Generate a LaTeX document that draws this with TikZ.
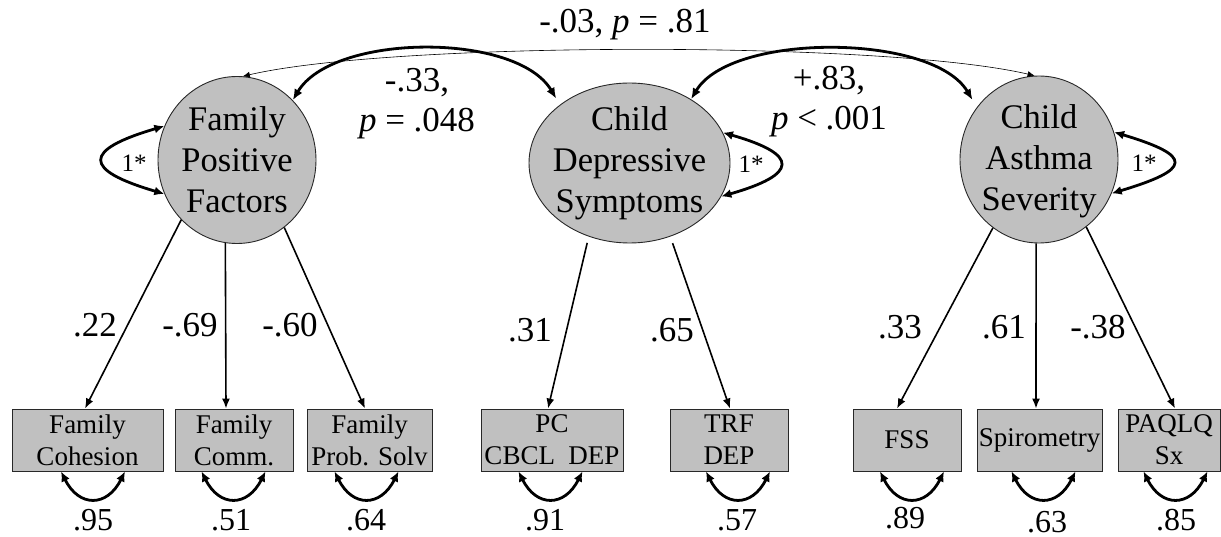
\documentclass[tikz,border=0pt]{standalone}
\usepackage{fontspec}
\setmainfont{Liberation Serif}
\usetikzlibrary{arrows.meta,shapes.geometric,calc}
\definecolor{fillgray}{RGB}{192,192,192}
\definecolor{edgegray}{RGB}{40,40,40}
\begin{document}
\begin{tikzpicture}[x=1pt,y=-1pt,
  lat/.style={ellipse, draw=edgegray, line width=0.9pt, fill=fillgray, inner sep=0pt},
  lattext/.style={align=center, inner sep=0pt, font=\fontsize{34.5}{41}\selectfont},
  obs/.style={rectangle, draw=edgegray, line width=0.9pt, fill=fillgray, inner sep=0pt,
    minimum height=62pt, align=center, font=\fontsize{27}{32}\selectfont},
  load/.style={-{Latex[length=10pt,width=8pt]}, line width=1.6pt},
  cov/.style={{Latex[length=11pt,width=9pt]}-{Latex[length=11pt,width=9pt]}, line width=2.8pt},
  thin/.style={{Latex[length=7pt,width=6pt]}-{Latex[length=7pt,width=6pt]}, line width=0.6pt},
  err/.style={{Latex[length=10pt,width=9pt]}-{Latex[length=10pt,width=9pt]}, line width=2.8pt},
  lbl/.style={inner sep=0pt, font=\fontsize{35}{40}\selectfont},
  elbl/.style={inner sep=0pt, font=\fontsize{32}{36}\selectfont},
  vlbl/.style={inner sep=0pt, font=\fontsize{25}{30}\selectfont},
  covlbl/.style={inner sep=0pt, align=center, font=\fontsize{35}{40}\selectfont}
]
\useasboundingbox (0,0) rectangle (1221,537);

% latent variables
\node[lat, minimum width=158pt, minimum height=167pt] (fam) at (237,160) {};
\node[lattext] (famT) at (237,160) {Family\\Positive\\Factors};
\node[lat, minimum width=201pt, minimum height=160pt] (dep) at (629.5,163) {};
\node[lattext] (depT) at (629.5,163) {Child\\Depressive\\Symptoms};
\node[lat, minimum width=158pt, minimum height=167pt] (asth) at (1039,159.5) {};
\node[lattext] (asthT) at (1039,161) {Child\\Asthma\\Severity};

% observed variables
\node[obs, minimum width=151pt] (coh) at (87.5,440) {Family\\Cohesion};
\node[obs, minimum width=118pt] (comm) at (234,440) {Family\\Comm.};
\node[obs, minimum width=125pt] (ps) at (369.5,440) {Family\\Prob. Solv};
\node[obs, minimum width=142pt] (pc) at (552,440) {PC\\CBCL\ \ DEP};
\node[obs, minimum width=118pt] (trf) at (729,440) {TRF\\DEP};
\node[obs, minimum width=108pt] (fss) at (907,440) {FSS};
\node[obs, minimum width=125pt] (spi) at (1039.5,440) {Spirometry};
\node[obs, minimum width=102pt] (paq) at (1169,440) {PAQLQ\\Sx};

% loadings
\draw[load] (fam.227) -- ([xshift=-2.5pt]coh.north);
\draw[load] (fam.262) -- ([xshift=-8pt]comm.north);
\draw[load] (fam.305) -- ([xshift=-4.5pt]ps.north);
\draw[load, shorten <=6.5pt] (dep.241) -- ([xshift=-4pt]pc.north);
\draw[load, shorten <=7pt] (dep.299) -- ([xshift=1pt]trf.north);
\draw[load] (asth.236) -- ([xshift=-10pt]fss.north);
\draw[load] (asth.268) -- ([xshift=-3.5pt]spi.north);
\draw[load] (asth.305) -- ([xshift=6pt]paq.north);

\node[lbl] (l1) at (95,325) {.22};
\node[lbl] (l2) at (190,325) {-.69};
\node[lbl] (l3) at (290,325) {-.60};
\node[lbl] (l4) at (530,330) {.31};
\node[lbl] (l5) at (672,330) {.65};
\node[lbl] (l6) at (900,327) {.33};
\node[lbl] (l7) at (1004,327) {.61};
\node[lbl] (l8) at (1098,327) {-.38};

% covariances
\draw[thin] (fam.86) .. controls +(150,-35) and +(-150,-35) .. (asth.93);
\draw[cov] (fam.47) .. controls +(40,-67) and +(-40,-67) .. ([shift={(-5pt,5pt)}]dep.139);
\draw[cov] (dep.46) .. controls +(40,-67) and +(-40,-67) .. ([shift={(-6pt,5pt)}]asth.138);

\node[covlbl] (c0) at (625,25) {-.03, \textit{p} = .81};
\node[covlbl] (c1) at (417,104) {-.33,\\\textit{p} = .048};
\node[covlbl] (c2) at (829,102) {+.83,\\\textit{p} < .001};

% variances of latent variables
\draw[err] (fam.155) .. controls +(-82,24) and +(-82,-24) .. (fam.205);
\draw[err] (dep.18) .. controls +(77,22) and +(77,-22) .. (dep.340);
\draw[err] (asth.20) .. controls +(80,24) and +(80,-24) .. (asth.335);
\node[vlbl] (v1) at (134,163) {1*};
\node[vlbl] (v2) at (751,164) {1*};
\node[vlbl] (v3) at (1144,163) {1*};

% residual variances
\draw[err] ([xshift=-26.5pt]coh.south) .. controls +(18,36) and +(-18,36) .. ([xshift=37.5pt]coh.south);
\draw[err] ([xshift=-32.5pt]comm.south) .. controls +(18,36) and +(-18,36) .. ([xshift=31.5pt]comm.south);
\draw[err] ([xshift=-35pt]ps.south) .. controls +(18,36) and +(-18,36) .. ([xshift=29pt]ps.south);
\draw[err] ([xshift=-33.5pt]pc.south) .. controls +(18,36) and +(-18,36) .. ([xshift=30.5pt]pc.south);
\draw[err] ([xshift=-23pt]trf.south) .. controls +(18,36) and +(-18,36) .. ([xshift=41pt]trf.south);
\draw[err] ([xshift=-27pt]fss.south) .. controls +(18,36) and +(-18,36) .. ([xshift=37pt]fss.south);
\draw[err] ([xshift=-28pt]spi.south) .. controls +(18,36) and +(-18,36) .. ([xshift=36pt]spi.south);
\draw[err] ([xshift=-25.5pt]paq.south) .. controls +(18,36) and +(-18,36) .. ([xshift=38.5pt]paq.south);

\node[elbl] (e1) at (93,520) {.95};
\node[elbl] (e2) at (231,520) {.51};
\node[elbl] (e3) at (366,520) {.64};
\node[elbl] (e4) at (545,520) {.91};
\node[elbl] (e5) at (737,520) {.57};
\node[elbl] (e6) at (905,518) {.89};
\node[elbl] (e7) at (1047,522) {.63};
\node[elbl] (e8) at (1176,520) {.85};
\end{tikzpicture}
\end{document}
